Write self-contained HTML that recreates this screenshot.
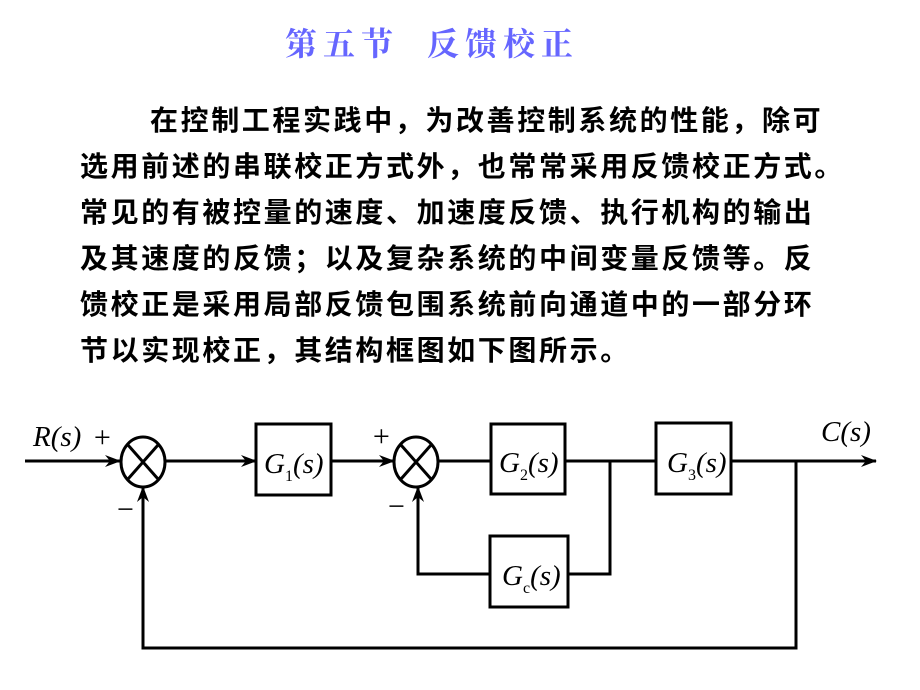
<!DOCTYPE html>
<html><head><meta charset="utf-8">
<style>
body{margin:0;width:920px;height:690px;background:#fff;position:relative;overflow:hidden}
.t{position:absolute;left:285px;top:20px;white-space:nowrap;font-family:"Noto Serif CJK SC","WenQuanYi Zen Hei",serif;font-weight:bold;font-size:32px;color:#6666ff;letter-spacing:6px;line-height:44px}
.p{position:absolute;left:80px;font-family:"Liberation Sans","Noto Sans CJK SC",sans-serif;font-weight:bold;font-size:28px;letter-spacing:2.6px;line-height:46px;white-space:nowrap;color:#000}
svg{position:absolute;left:0;top:0}
svg text{font-family:"Liberation Serif",serif;font-style:italic}
</style></head><body>
<div class="t">第五节&nbsp;&nbsp;反馈校正</div>
<div class="p" style="top:98px;left:150px">在控制工程实践中，为改善控制系统的性能，除可</div>
<div class="p" style="top:144px">选用前述的串联校正方式外，也常常采用反馈校正方式。</div>
<div class="p" style="top:190px">常见的有被控量的速度、加速度反馈、执行机构的输出</div>
<div class="p" style="top:236px">及其速度的反馈；以及复杂系统的中间变量反馈等。反</div>
<div class="p" style="top:282px">馈校正是采用局部反馈包围系统前向通道中的一部分环</div>
<div class="p" style="top:328px">节以实现校正，其结构框图如下图所示。</div>
<svg width="920" height="690" viewBox="0 0 920 690">
<defs><marker id="a" markerWidth="16" markerHeight="12" refX="15" refY="6" orient="auto" markerUnits="userSpaceOnUse"><path d="M0,0 L16,6 L0,12 L5,6 Z" fill="#000"/></marker></defs>
<g stroke="#000" stroke-width="3" fill="none">
<line x1="25" y1="461" x2="120" y2="461" marker-end="url(#a)"/>
<ellipse cx="143" cy="462" rx="22" ry="25"/>
<line x1="128" y1="445" x2="158" y2="479"/><line x1="158" y1="445" x2="128" y2="479"/>
<line x1="165" y1="461" x2="256" y2="461" marker-end="url(#a)"/>
<rect x="256" y="424" width="75" height="71"/>
<line x1="331" y1="461" x2="394" y2="461" marker-end="url(#a)"/>
<ellipse cx="416" cy="462" rx="22" ry="25"/>
<line x1="401" y1="445" x2="431" y2="479"/><line x1="431" y1="445" x2="401" y2="479"/>
<line x1="438" y1="461" x2="491" y2="461"/>
<rect x="491" y="424" width="74" height="70"/>
<line x1="565" y1="461" x2="656" y2="461"/>
<rect x="656" y="423" width="75" height="71"/>
<line x1="731" y1="461" x2="876" y2="461" marker-end="url(#a)"/>
<polyline points="610,461 610,574 568,574"/>
<rect x="490" y="536" width="78" height="71"/>
<polyline points="490,574 418,574 418,487" marker-end="url(#a)"/>
<polyline points="796,461 796,648 143,648 143,487" marker-end="url(#a)"/>
</g>
<g font-size="29" fill="#000">
<text x="33" y="446">R(s)</text>
<text x="821" y="441">C(s)</text>
<text x="264" y="473">G<tspan font-size="16" font-style="normal" dy="8">1</tspan><tspan dy="-8">(s)</tspan></text>
<text x="499" y="472">G<tspan font-size="16" font-style="normal" dy="8">2</tspan><tspan dy="-8">(s)</tspan></text>
<text x="667" y="472">G<tspan font-size="16" font-style="normal" dy="8">3</tspan><tspan dy="-8">(s)</tspan></text>
<text x="502" y="585">G<tspan font-size="16" font-style="normal" dy="8">c</tspan><tspan dy="-8">(s)</tspan></text>
</g>
<g font-family="Liberation Serif" font-size="30" fill="#000">
<text x="92" y="447">+</text><text x="371" y="446">+</text>
<text x="115" y="519">−</text><text x="386" y="516">−</text>
</g>
</svg>
</body></html>
